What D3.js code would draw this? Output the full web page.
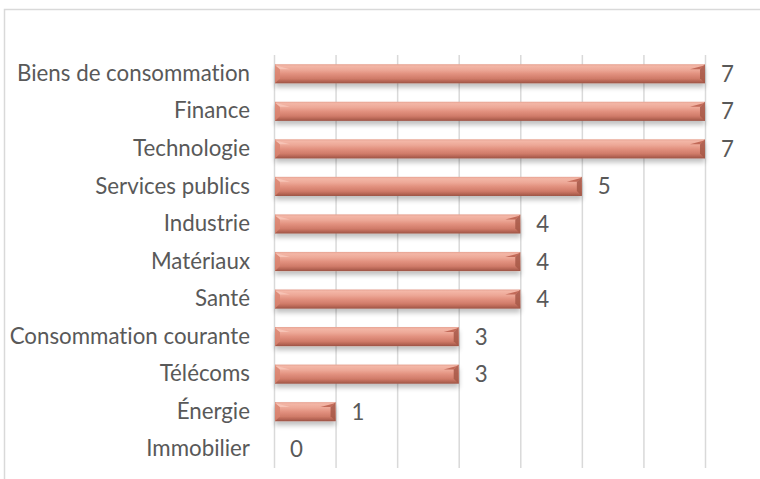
<!DOCTYPE html>
<html lang="fr">
<head>
    <meta charset="UTF-8">
    <title>Répartition par secteur</title>
    <script src="https://d3js.org/d3.v7.min.js"></script>
    <style>
        body { margin: 0; background: #fff; }
        svg text { font-family: Lato, "Open Sans", sans-serif; fill: #595959; font-variant-ligatures: none; }
    </style>
</head>
<body>
    <div id="chart"></div>
    <script>
        // data
        var secteurs = ["Biens de consommation", "Finance", "Technologie", "Services publics",
            "Industrie", "Matériaux", "Santé", "Consommation courante", "Télécoms", "Énergie", "Immobilier"];
        var valeurs = [7, 7, 7, 5, 4, 4, 4, 3, 3, 1, 0];
        var gridTicks = [0, 1, 2, 3, 4, 5, 6, 7];

        var W = 760, H = 479;
        var margin = {top: 55, right: 55, bottom: 11, left: 274},
            width = W - margin.left - margin.right,
            height = H - margin.top - margin.bottom;

        var svg = d3.select("#chart").append("svg")
            .attr("width", W).attr("height", H);

        // chart frame (right / bottom edges fall outside the picture)
        svg.append("path")
            .attr("d", "M4.5,490V9.5H770")
            .attr("fill", "none")
            .attr("stroke", "#d9d9d9")
            .attr("stroke-width", 1.5);

        var defs = svg.append("defs");
        var grad = defs.append("linearGradient")
            .attr("id", "barGrad").attr("x1", 0).attr("y1", 0).attr("x2", 0).attr("y2", 1);
        [[0, "#e7a393"], [0.1, "#f3b6a6"], [0.3, "#eda897"], [0.5, "#e2917f"], [0.75, "#d07b69"], [0.88, "#b86756"], [1, "#9c5345"]]
            .forEach(s => grad.append("stop").attr("offset", s[0]).attr("stop-color", s[1]));

        var shadow = defs.append("filter").attr("id", "shadow")
            .attr("x", "-5%").attr("y", "-30%").attr("width", "110%").attr("height", "190%");
        shadow.append("feGaussianBlur").attr("in", "SourceAlpha").attr("stdDeviation", 2.5);
        shadow.append("feOffset").attr("dy", 4).attr("result", "b");
        shadow.append("feComponentTransfer").append("feFuncA").attr("type", "linear").attr("slope", 0.25);
        var merge = shadow.append("feMerge");
        merge.append("feMergeNode");
        merge.append("feMergeNode").attr("in", "SourceGraphic");

        var g = svg.append("g").attr("transform", "translate(" + margin.left + "," + margin.top + ")");

        var x = d3.scaleLinear().domain([0, 7]).range([0, 431]);
        var y = d3.scaleBand().domain(secteurs).range([0, height]).paddingInner(0.49).paddingOuter(0.245);

        // vertical gridlines
        g.selectAll(".grid").data(gridTicks).enter().append("line")
            .attr("x1", d => x(d) + 0.5).attr("x2", d => x(d) + 0.5)
            .attr("y1", 0).attr("y2", height)
            .attr("stroke", "#d9d9d9").attr("stroke-width", 1.5);

        // category labels
        g.append("g")
            .attr("transform", "translate(-24,0)")
            .call(d3.axisLeft(y).tickSize(0).tickPadding(0))
            .call(a => a.select(".domain").remove())
            .selectAll("text")
            .style("font-size", "22.3px")
            .attr("fill", "#595959");

        var data = valeurs.map((v, i) => ({k: secteurs[i], v: v}));

        // bevelled bars
        var bars = g.selectAll(".bar").data(data.filter(d => d.v > 0))
            .enter().append("g")
            .attr("class", "bar")
            .attr("filter", "url(#shadow)")
            .attr("transform", d => "translate(1," + y(d.k) + ")");

        var bh = y.bandwidth(), bev = 5;
        bars.append("rect")
            .attr("width", d => x(d.v) - 1)
            .attr("height", bh)
            .attr("fill", "url(#barGrad)");
        // left bevel
        bars.append("path")
            .attr("d", "M0,0L" + bev + "," + bev + "L" + bev + "," + (bh - bev) + "L0," + bh + "Z")
            .attr("fill", "#d98471").attr("opacity", 0.8);
        bars.append("path")
            .attr("d", "M0,1L" + (bev * 3) + "," + bev + "L" + bev + "," + bev + "Z")
            .attr("fill", "#f7c3b5");
        // right bevel
        bars.append("path")
            .attr("d", d => { var e = x(d.v) - 1; return "M" + e + ",0L" + (e - bev) + "," + bev + "L" + (e - bev) + "," + (bh - bev) + "L" + e + "," + bh + "Z"; })
            .attr("fill", "#a65848").attr("opacity", 0.85);
        bars.append("path")
            .attr("d", d => { var e = x(d.v) - 1; return "M" + e + ",1L" + (e - bev * 3) + "," + bev + "L" + (e - bev) + "," + bev + "Z"; })
            .attr("fill", "#c26a59");

        // value labels
        g.selectAll(".val").data(data)
            .enter().append("text")
            .attr("class", "val")
            .attr("x", d => x(d.v) + 16)
            .attr("y", d => y(d.k) + bh / 2)
            .attr("dy", "0.36em")
            .style("font-size", "22.3px")
            .text(d => d.v);
    </script>
</body>
</html>
